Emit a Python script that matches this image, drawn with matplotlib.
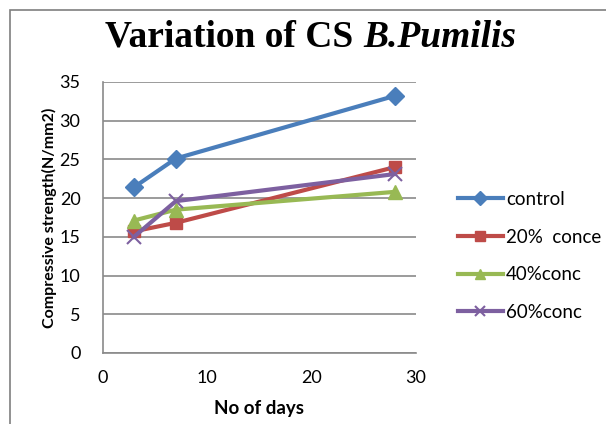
import matplotlib
matplotlib.use('Agg')
import matplotlib.pyplot as plt
from matplotlib.patches import Rectangle

# data
days = [3, 7, 28]
control = [21.4, 25.1, 33.2]
conc20 = [15.7, 16.8, 24.0]
conc40 = [17.1, 18.5, 20.8]
conc60 = [15.0, 19.6, 23.1]
labels = ['control', '20%  conce', '40%conc', '60%conc']

plt.rcParams['font.family'] = ['Lato', 'DejaVu Sans']

fig = plt.figure(figsize=(6.06, 4.24), dpi=100)
ax = fig.add_axes([0.1695, 0.1675, 0.517, 0.6395])

ax.plot(days, control, color='#4A7EBB', lw=3, marker='D', ms=9, label=labels[0])
ax.plot(days, conc20, color='#BE4B48', lw=3, marker='s', ms=9, label=labels[1])
ax.plot(days, conc40, color='#98B954', lw=3, marker='^', ms=10, label=labels[2])
ax.plot(days, conc60, color='#7D60A0', lw=3, marker='x', ms=10, mew=1.5, label=labels[3])

ax.set_xlim(0, 30)
ax.set_ylim(0, 35)
ax.set_xticks([0, 10, 20, 30])
ax.set_yticks(range(0, 36, 5))
ax.yaxis.grid(True, color='#8a8a8a', lw=1.2)
ax.set_axisbelow(True)
for s in ['top', 'right']:
    ax.spines[s].set_visible(False)
for s in ['left', 'bottom']:
    ax.spines[s].set_color('#8a8a8a')
    ax.spines[s].set_linewidth(1.2)
ax.tick_params(axis='y', length=0, labelsize=13, pad=16)
ax.tick_params(axis='x', length=0, labelsize=13, pad=12)

ax.set_xlabel('No of days', fontsize=13.5, fontweight='bold', labelpad=10)
ax.set_ylabel('Compressive strength(N/mm2)', fontsize=11.5, fontweight='bold', labelpad=2)

fig.text(0.599, 0.912, 'Variation of CS ', ha='right', va='center',
         fontsize=27, fontweight='bold', family='Liberation Serif')
fig.text(0.599, 0.912, 'B.Pumilis', ha='left', va='center',
         fontsize=27, fontweight='bold', style='italic', family='Liberation Serif')

leg = ax.legend(loc='upper left', bbox_to_anchor=(1.08, 0.66), frameon=False,
                fontsize=13.5, labelspacing=1.1, handlelength=2.4,
                handletextpad=0.15, markerscale=0.75)

fig.patches.append(Rectangle((10 / 606, -0.1), 1.2, 1 - 10 / 424 + 0.1,
                             transform=fig.transFigure, fill=False,
                             ec='#7f7f7f', lw=1.2))

fig.savefig('out.png', dpi=100)
